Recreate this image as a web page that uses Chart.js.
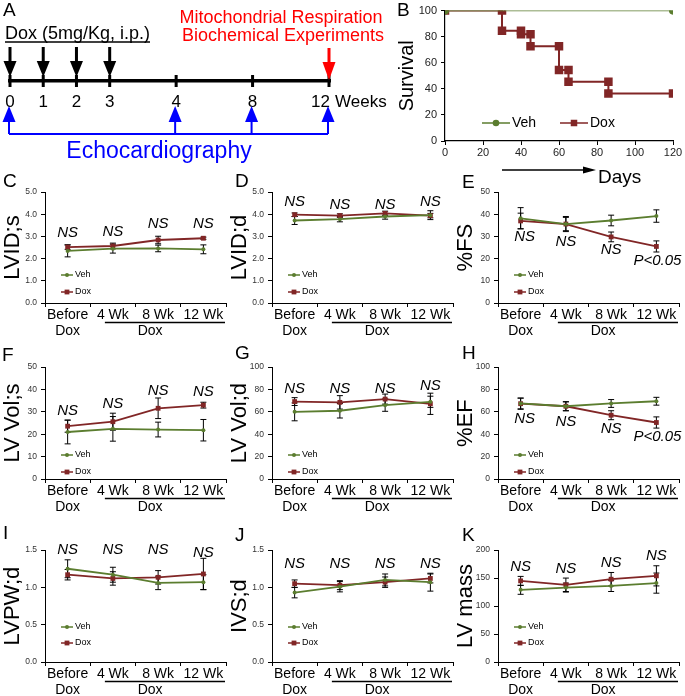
<!DOCTYPE html>
<html><head><meta charset="utf-8">
<script src="https://cdn.jsdelivr.net/npm/chart.js@4.4.1/dist/chart.umd.min.js"></script>
<style>
body{margin:0;width:685px;height:696px;overflow:hidden;background:#fff;position:relative;font-family:'Liberation Sans',Arial,sans-serif}
canvas{position:absolute}
.L{position:absolute;font-size:19px;line-height:19px;color:#000}
</style></head><body>
<canvas id="cA" width="395" height="170" style="left:0;top:0"></canvas>
<canvas id="cB" width="290" height="190" style="left:395px;top:0"></canvas>
<canvas id="cC" width="230" height="160" style="left:0;top:183px"></canvas>
<canvas id="cD" width="230" height="160" style="left:227px;top:183px"></canvas>
<canvas id="cE" width="230" height="160" style="left:453px;top:183px"></canvas>
<canvas id="cF" width="230" height="161" style="left:0;top:358px"></canvas>
<canvas id="cG" width="230" height="161" style="left:227px;top:358px"></canvas>
<canvas id="cH" width="230" height="161" style="left:453px;top:358px"></canvas>
<canvas id="cI" width="230" height="161" style="left:0;top:541px"></canvas>
<canvas id="cJ" width="230" height="161" style="left:227px;top:541px"></canvas>
<canvas id="cK" width="230" height="161" style="left:453px;top:541px"></canvas>
<div class="L" style="left:3px;top:0">A</div>
<div class="L" style="left:397px;top:0">B</div>
<div class="L" style="left:3px;top:171px">C</div>
<div class="L" style="left:235px;top:171px">D</div>
<div class="L" style="left:462px;top:172px">E</div>
<div class="L" style="left:2px;top:345px">F</div>
<div class="L" style="left:235px;top:343px">G</div>
<div class="L" style="left:462px;top:343px">H</div>
<div class="L" style="left:3px;top:523px">I</div>
<div class="L" style="left:235px;top:525px">J</div>
<div class="L" style="left:462px;top:525px">K</div>
<script>
// ---------- data ----------
const timeWeeks = [0, 1, 2, 3, 4, 8, 12];
const doxWeeks = [0, 1, 2, 3];
const echoWeeks = [0, 4, 8, 12];
const harvestWeeks = [12];

const survDaysVeh = [0, 120];
const survVeh = [100, 100];
const survDaysDox = [0, 30, 30, 40, 40, 45, 45, 60, 60, 65, 65, 86, 86, 120];
const survDox = [100, 100, 84.6, 84.6, 81.8, 81.8, 72.7, 72.7, 54.5, 54.5, 45.5, 45.5, 36.4, 36.4];

const timepoints = [['Before', 'Dox'], '4 Wk', '8 Wk', '12 Wk'];
const sigAllNS = ['NS', 'NS', 'NS', 'NS'];
const sigLastP = ['NS', 'NS', 'NS', 'P<0.05'];

const lvidsVeh = [2.35, 2.45, 2.46, 2.42], lvidsVehErr = [0.27, 0.2, 0.15, 0.2];
const lvidsDox = [2.52, 2.57, 2.84, 2.92], lvidsDoxErr = [0.1, 0.13, 0.17, 0.05];
const lviddVeh = [3.72, 3.78, 3.9, 3.96], lviddVehErr = [0.18, 0.12, 0.12, 0.2];
const lviddDox = [3.98, 3.94, 4.04, 3.94], lviddDoxErr = [0.08, 0.08, 0.1, 0.1];
const fsVeh = [38.2, 35.6, 37.2, 39.2], fsVehErr = [4.8, 3.4, 2.4, 2.8];
const fsDox = [37.0, 35.6, 29.8, 25.5], fsDoxErr = [3.5, 3.0, 2.2, 2.5];
const volsVeh = [21.0, 22.4, 22.1, 21.8], volsVehErr = [5.3, 5.5, 3.3, 4.8];
const volsDox = [23.6, 25.6, 31.6, 33.0], volsDoxErr = [2.7, 3.8, 4.6, 1.3];
const voldVeh = [60, 61, 66, 69], voldVehErr = [8, 6.5, 5.5, 5];
const voldDox = [69.2, 68.5, 71.4, 67.2], voldDoxErr = [3.5, 6, 4.5, 9.5];
const efVeh = [67.5, 65, 67.5, 69.5], efVehErr = [4.8, 4, 3.5, 3.5];
const efDox = [67.3, 65, 57, 50.5], efDoxErr = [5, 4, 4, 5];
const lvpwVeh = [1.25, 1.17, 1.06, 1.07], lvpwVehErr = [0.12, 0.1, 0.09, 0.1];
const lvpwDox = [1.17, 1.12, 1.135, 1.18], lvpwDoxErr = [0.07, 0.09, 0.09, 0.21];
const ivsVeh = [0.93, 1.01, 1.1, 1.07], ivsVehErr = [0.07, 0.07, 0.08, 0.12];
const ivsDox = [1.05, 1.03, 1.07, 1.12], ivsDoxErr = [0.05, 0.06, 0.07, 0.06];
const massVeh = [129, 133, 136, 141], massVehErr = [8, 8, 10, 18];
const massDox = [145, 138, 148, 154], massDoxErr = [8, 12, 12, 18];

// ---------- styles ----------
const FONT = "'Liberation Sans', Arial, sans-serif";
const VEH = '#5b7d2f', DOX = '#812626';
Chart.defaults.font.family = FONT;
Chart.defaults.color = '#000';
Chart.defaults.animation = false;
Chart.defaults.responsive = false;
Chart.defaults.plugins.legend.display = false;
Chart.defaults.plugins.tooltip.enabled = false;

function drawMarker(ctx, style, x, y, r, color) {
  ctx.fillStyle = color;
  ctx.beginPath();
  if (style === 'rect') { const s = r * Math.SQRT1_2; ctx.rect(x - s, y - s, 2 * s, 2 * s); }
  else ctx.arc(x, y, r, 0, Math.PI * 2);
  ctx.fill();
}

// ---------- Panel A (timeline) ----------
const slot = w => (w <= 3 ? w : 5 + (w - 4) * 0.575);
new Chart(document.getElementById('cA'), {
  type: 'scatter',
  data: { datasets: [{ data: [] }] },
  options: {
    layout: { padding: { left: 10, right: 66, top: 0, bottom: 0 } },
    scales: {
      x: { type: 'linear', display: false, min: 0, max: slot(12) },
      y: { type: 'linear', display: false, min: 0, max: 170, reverse: true }
    }
  },
  plugins: [{
    id: 'timeline',
    afterDraw(chart) {
      const c = chart.ctx, xs = chart.scales.x, ys = chart.scales.y;
      const X = w => xs.getPixelForValue(slot(w)), Y = v => ys.getPixelForValue(v);
      c.save();
      // Dox text with underline
      c.font = '18px ' + FONT; c.fillStyle = '#000'; c.textAlign = 'left'; c.textBaseline = 'alphabetic';
      c.fillText('Dox (5mg/Kg, i.p.)', 5, Y(39));
      c.strokeStyle = '#000'; c.lineWidth = 1.5;
      c.beginPath(); c.moveTo(5, Y(42)); c.lineTo(150, Y(42)); c.stroke();
      // red texts
      c.fillStyle = '#f00'; c.textAlign = 'center';
      c.fillText('Mitochondrial Respiration', 281, Y(23));
      c.fillText('Biochemical Experiments', 283, Y(41));
      // black dose arrows
      c.fillStyle = '#000';
      doxWeeks.forEach(w => {
        const x = X(w);
        c.fillRect(x - 1.5, Y(47), 3, 16);
        c.beginPath(); c.moveTo(x - 6.5, Y(61)); c.lineTo(x + 6.5, Y(61)); c.lineTo(x, Y(77)); c.closePath(); c.fill();
      });
      // timeline
      c.fillRect(X(0) - 2, Y(79), X(12) - X(0) + 4, 3.5);
      timeWeeks.forEach(w => c.fillRect(X(w) - 1.5, Y(75), 3, 12));
      // red harvest arrow
      c.fillStyle = '#f00';
      harvestWeeks.forEach(w => {
        const x = X(w);
        c.fillRect(x - 1.5, Y(48), 3, 16);
        c.beginPath(); c.moveTo(x - 6.5, Y(62)); c.lineTo(x + 6.5, Y(62)); c.lineTo(x, Y(80)); c.closePath(); c.fill();
      });
      // week labels
      c.fillStyle = '#000'; c.font = '17px ' + FONT; c.textBaseline = 'middle';
      timeWeeks.forEach(w => {
        if (w === 12) { c.textAlign = 'right'; c.fillText(String(w), X(w) + 1, Y(102)); }
        else { c.textAlign = 'center'; c.fillText(String(w), X(w), Y(102)); }
      });
      c.textAlign = 'left'; c.fillText('Weeks', X(12) + 6, Y(102));
      // blue echo arrows and bracket
      c.fillStyle = '#0000ff'; c.strokeStyle = '#0000ff'; c.lineWidth = 2;
      echoWeeks.forEach(w => {
        const x = X(w) - 1;
        c.beginPath(); c.moveTo(x, Y(106)); c.lineTo(x - 6.5, Y(122)); c.lineTo(x + 6.5, Y(122)); c.closePath(); c.fill();
        c.beginPath(); c.moveTo(x, Y(121)); c.lineTo(x, Y(134)); c.stroke();
      });
      c.beginPath(); c.moveTo(X(0) - 1, Y(134)); c.lineTo(X(12) - 1, Y(134)); c.stroke();
      c.font = '23px ' + FONT; c.textAlign = 'center'; c.textBaseline = 'middle';
      c.fillText('Echocardiography', 159, Y(152));
      c.restore();
    }
  }]
});

// ---------- Panel B (survival) ----------
new Chart(document.getElementById('cB'), {
  type: 'scatter',
  data: {
    datasets: [
      { label: 'Veh', data: survDaysVeh.map((d, i) => ({ x: d, y: survVeh[i] })), showLine: true,
        borderColor: VEH, backgroundColor: VEH, pointStyle: 'circle', pointRadius: 3.3, borderWidth: 1.5 },
      { label: 'Dox', data: survDaysDox.map((d, i) => ({ x: d, y: survDox[i] })), showLine: true,
        borderColor: DOX, backgroundColor: DOX, pointStyle: 'rect', pointRadius: 4.6, borderWidth: 2 }
    ]
  },
  options: {
    layout: { padding: { top: 7, right: 12, left: 0, bottom: 0 } },
    scales: {
      x: { type: 'linear', min: 0, max: 120,
        ticks: { stepSize: 20, font: { size: 11 }, color: '#222', padding: 1.5, maxRotation: 0 },
        grid: { drawOnChartArea: false, tickLength: 4, color: '#000' }, border: { color: '#000', width: 1.2 },
        afterFit(s) { s.height = 49; } },
      y: { type: 'linear', min: 0, max: 100,
        ticks: { stepSize: 20, font: { size: 11 }, color: '#222', padding: 4 },
        grid: { drawOnChartArea: false, tickLength: 4, color: '#000' }, border: { color: '#000', width: 1.2 },
        title: { display: true, text: 'Survival', font: { size: 20 }, color: '#000', padding: { top: 0, bottom: 0 } },
        afterFit(s) { s.width = 50; } }
    }
  },
  plugins: [{
    id: 'survDecor',
    afterDraw(chart) {
      const c = chart.ctx, a = chart.chartArea;
      c.save();
      // legend
      const ly = a.bottom - 18;
      [['Veh', VEH, 'circle', 3.3, 37], ['Dox', DOX, 'rect', 4.6, 115]].forEach(([t, col, st, r, dx]) => {
        c.strokeStyle = col; c.lineWidth = 1.5;
        c.beginPath(); c.moveTo(a.left + dx, ly); c.lineTo(a.left + dx + 28, ly); c.stroke();
        drawMarker(c, st, a.left + dx + 14, ly, r, col);
        c.fillStyle = '#000'; c.font = '14px ' + FONT; c.textAlign = 'left'; c.textBaseline = 'middle';
        c.fillText(t, a.left + dx + 30, ly);
      });
      // Days arrow
      const ay = a.bottom + 29;
      c.strokeStyle = '#000'; c.fillStyle = '#000'; c.lineWidth = 1.5;
      c.beginPath(); c.moveTo(a.left + 57, ay); c.lineTo(a.left + 142, ay); c.stroke();
      c.beginPath(); c.moveTo(a.left + 138, ay - 3.5); c.lineTo(a.left + 151, ay); c.lineTo(a.left + 138, ay + 3.5); c.closePath(); c.fill();
      c.font = '19px ' + FONT; c.textBaseline = 'alphabetic'; c.textAlign = 'left';
      c.fillText('Days', a.left + 153, a.bottom + 42);
      c.restore();
    }
  }]
});

// ---------- Panels C-K ----------
function small(id, o) {
  new Chart(document.getElementById(id), {
    type: 'line',
    data: {
      labels: timepoints,
      datasets: [
        { label: 'Veh', data: o.veh, errs: o.vehErr, borderColor: VEH, backgroundColor: VEH,
          pointStyle: 'circle', pointRadius: 2, borderWidth: 1.8, pointBorderWidth: 0 },
        { label: 'Dox', data: o.dox, errs: o.doxErr, borderColor: DOX, backgroundColor: DOX,
          pointStyle: 'rect', pointRadius: 3.4, borderWidth: 1.8, pointBorderWidth: 0 }
      ]
    },
    options: {
      layout: { padding: { top: 8, right: 0, left: 0, bottom: 0 } },
      scales: {
        x: { offset: true,
          grid: { offset: true, drawOnChartArea: false, tickLength: 4, color: '#000' },
          border: { color: '#000', width: 1 },
          ticks: { font: { size: 14, lineHeight: 1.15 }, color: '#000', padding: 0, maxRotation: 0, autoSkip: false },
          afterFit(s) { s.height = 40; } },
        y: { min: 0, max: o.max,
          ticks: { stepSize: o.step, font: { size: 8.5 }, color: '#333', padding: 4, callback: v => v.toFixed(o.dec) },
          grid: { drawOnChartArea: false, tickLength: 4, color: '#000' },
          border: { color: '#000', width: 1 },
          title: { display: true, text: o.title, font: { size: 22 }, color: '#000', padding: { top: 0, bottom: 0 } },
          afterFit(s) { s.width = 45; } }
      }
    },
    plugins: [{
      id: 'decor',
      beforeDatasetsDraw(chart) {
        const c = chart.ctx, ys = chart.scales.y;
        c.save(); c.strokeStyle = '#000'; c.lineWidth = 1;
        chart.data.datasets.forEach((ds, i) => {
          chart.getDatasetMeta(i).data.forEach((pt, j) => {
            const t = ys.getPixelForValue(ds.data[j] + ds.errs[j]);
            const b = ys.getPixelForValue(ds.data[j] - ds.errs[j]);
            c.beginPath();
            c.moveTo(pt.x, t); c.lineTo(pt.x, b);
            c.moveTo(pt.x - 3, t); c.lineTo(pt.x + 3, t);
            c.moveTo(pt.x - 3, b); c.lineTo(pt.x + 3, b);
            c.stroke();
          });
        });
        c.restore();
      },
      afterDraw(chart) {
        const c = chart.ctx, xs = chart.scales.x, ys = chart.scales.y, a = chart.chartArea;
        c.save();
        // significance labels
        c.font = 'italic 15px ' + FONT; c.fillStyle = '#000'; c.textAlign = 'center'; c.textBaseline = 'middle';
        o.sig.forEach((t, i) => c.fillText(t, xs.getPixelForTick(i) + (o.sigDx ? o.sigDx[i] : 0), ys.getPixelForValue(o.sigY[i])));
        // legend
        [['Veh', VEH, 'circle', 2, o.leg[0]], ['Dox', DOX, 'rect', 3.4, o.leg[1]]].forEach(([t, col, st, r, off]) => {
          const y = a.bottom - off, x0 = a.left + 16;
          c.strokeStyle = col; c.lineWidth = 1.5;
          c.beginPath(); c.moveTo(x0, y); c.lineTo(x0 + 12, y); c.stroke();
          drawMarker(c, st, x0 + 6, y, r, col);
          c.fillStyle = '#000'; c.font = '9px ' + FONT; c.textAlign = 'left';
          c.fillText(t, x0 + 14, y);
        });
        // Dox bracket under 4-12 Wk
        const by = a.bottom + 19.5;
        c.strokeStyle = '#000'; c.lineWidth = 1.3;
        c.beginPath(); c.moveTo(xs.getPixelForTick(1) - 8, by); c.lineTo(a.right - 1, by); c.stroke();
        c.font = '14px ' + FONT; c.textAlign = 'center';
        c.fillText('Dox', xs.getPixelForTick(2) - 8, a.bottom + 28.2);
        c.restore();
      }
    }]
  });
}

const row1Leg = [28, 11], row2Leg = [24, 7], row3Leg = [35, 19];
small('cC', { title: 'LVID;s', max: 5, step: 1, dec: 1, veh: lvidsVeh, vehErr: lvidsVehErr, dox: lvidsDox, doxErr: lvidsDoxErr,
  sig: sigAllNS, sigY: [3.15, 3.2, 3.55, 3.55], leg: row1Leg });
small('cD', { title: 'LVID;d', max: 5, step: 1, dec: 1, veh: lviddVeh, vehErr: lviddVehErr, dox: lviddDox, doxErr: lviddDoxErr,
  sig: sigAllNS, sigY: [4.55, 4.42, 4.43, 4.55], leg: row1Leg });
small('cE', { title: '%FS', max: 50, step: 10, dec: 0, veh: fsVeh, vehErr: fsVehErr, dox: fsDox, doxErr: fsDoxErr,
  sig: sigLastP, sigY: [30, 27.8, 23.8, 19], sigDx: [4, 0, 0, 1], leg: row1Leg });
small('cF', { title: 'LV Vol;s', max: 50, step: 10, dec: 0, veh: volsVeh, vehErr: volsVehErr, dox: volsDox, doxErr: volsDoxErr,
  sig: sigAllNS, sigY: [30.3, 33.8, 39.6, 38.8], leg: row2Leg });
small('cG', { title: 'LV Vol;d', max: 100, step: 20, dec: 0, veh: voldVeh, vehErr: voldVehErr, dox: voldDox, doxErr: voldDoxErr,
  sig: sigAllNS, sigY: [80.5, 80.5, 80.5, 83.5], leg: row2Leg });
small('cH', { title: '%EF', max: 100, step: 20, dec: 0, veh: efVeh, vehErr: efVehErr, dox: efDox, doxErr: efDoxErr,
  sig: sigLastP, sigY: [54, 51, 45, 37.5], sigDx: [4, 0, 0, 1], leg: row2Leg });
small('cI', { title: 'LVPW;d', max: 1.5, step: 0.5, dec: 1, veh: lvpwVeh, vehErr: lvpwVehErr, dox: lvpwDox, doxErr: lvpwDoxErr,
  sig: sigAllNS, sigY: [1.5, 1.5, 1.5, 1.47], leg: row3Leg });
small('cJ', { title: 'IVS;d', max: 1.5, step: 0.5, dec: 1, veh: ivsVeh, vehErr: ivsVehErr, dox: ivsDox, doxErr: ivsDoxErr,
  sig: sigAllNS, sigY: [1.32, 1.32, 1.32, 1.32], leg: row3Leg });
small('cK', { title: 'LV mass', max: 200, step: 50, dec: 0, veh: massVeh, vehErr: massVehErr, dox: massDox, doxErr: massDoxErr,
  sig: sigAllNS, sigY: [170, 166, 177, 190], leg: row3Leg });
</script>
</body></html>
